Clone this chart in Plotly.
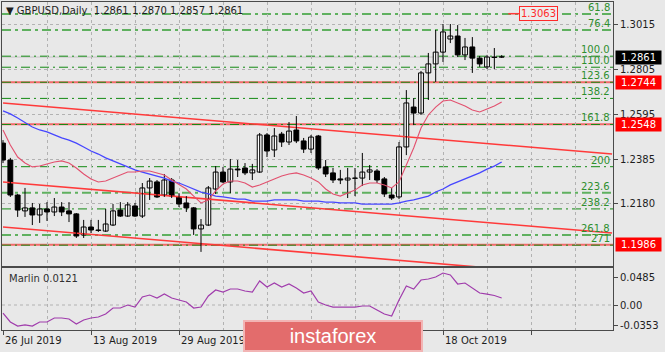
import plotly.graph_objects as go

# ---------------- data ----------------
opens = [1.2460,1.2381,1.2218,1.2144,1.2158,1.2125,1.2153,1.2139,1.2162,1.2144,
         1.2130,1.2032,1.2069,1.2055,1.2050,1.2078,1.2148,1.2120,1.2167,1.2120,
         1.2251,1.2279,1.2218,1.2288,1.2209,1.2181,1.2158,1.2060,1.2078,1.2246,
         1.2325,1.2279,1.2339,1.2344,1.2321,1.2325,1.2498,1.2428,1.2502,1.2465,
         1.2521,1.2470,1.2432,1.2493,1.2349,1.2321,1.2293,1.2288,1.2297,1.2297,
         1.2325,1.2330,1.2293,1.2218,1.2209,1.2442,1.2628,1.2600,1.2787,1.2829,
         1.2884,1.2945,1.2959,1.2871,1.2908,1.2856,1.2815,1.2861,1.2861]
highs = [1.2474,1.2391,1.2223,1.2251,1.2181,1.2176,1.2185,1.2204,1.2185,1.2185,
         1.2134,1.2102,1.2102,1.2102,1.2153,1.2176,1.2185,1.2185,1.2181,1.2274,
         1.2297,1.2288,1.2316,1.2297,1.2227,1.2213,1.2162,1.2106,1.2260,1.2353,
         1.2349,1.2386,1.2381,1.2367,1.2363,1.2507,1.2507,1.2530,1.2512,1.2558,
         1.2586,1.2484,1.2498,1.2498,1.2381,1.2344,1.2335,1.2344,1.2344,1.2414,
         1.2358,1.2339,1.2302,1.2251,1.2465,1.2707,1.2670,1.2796,1.2880,1.2987,
         1.3015,1.3015,1.3010,1.2950,1.2954,1.2866,1.2871,1.2903,1.2870]
lows = [1.2367,1.2209,1.2116,1.2116,1.2078,1.2088,1.2097,1.2120,1.2120,1.2092,
        1.2018,1.2018,1.2041,1.2046,1.2046,1.2074,1.2116,1.2116,1.2116,1.2111,
        1.2195,1.2204,1.2209,1.2204,1.2162,1.2139,1.2032,1.1953,1.2074,1.2223,
        1.2274,1.2227,1.2302,1.2311,1.2288,1.2321,1.2395,1.2395,1.2442,1.2451,
        1.2460,1.2414,1.2414,1.2335,1.2302,1.2274,1.2269,1.2204,1.2213,1.2260,
        1.2288,1.2274,1.2209,1.2195,1.2199,1.2404,1.2544,1.2591,1.2661,1.2745,
        1.2838,1.2926,1.2861,1.2847,1.2787,1.2815,1.2805,1.2805,1.2857]
closes = [1.2381,1.2218,1.2148,1.2158,1.2125,1.2153,1.2139,1.2162,1.2139,1.2130,
          1.2027,1.2069,1.2055,1.2053,1.2083,1.2144,1.2120,1.2172,1.2120,1.2251,
          1.2283,1.2209,1.2288,1.2213,1.2176,1.2158,1.2060,1.2078,1.2251,1.2325,
          1.2279,1.2339,1.2335,1.2321,1.2335,1.2498,1.2423,1.2493,1.2465,1.2516,
          1.2470,1.2432,1.2488,1.2344,1.2316,1.2288,1.2288,1.2297,1.2296,1.2325,
          1.2335,1.2288,1.2223,1.2204,1.2442,1.2647,1.2600,1.2787,1.2829,1.2884,
          1.2978,1.2959,1.2871,1.2908,1.2856,1.2829,1.2861,1.2859,1.2861]

fast_ma = [1.2521,1.2451,1.2395,1.2367,1.2349,1.2353,1.2363,1.2372,1.2377,1.2367,
           1.2344,1.2316,1.2293,1.2279,1.2283,1.2297,1.2311,1.2325,1.2325,1.2330,
           1.2330,1.2321,1.2311,1.2288,1.2269,1.2246,1.2213,1.2181,1.2195,1.2237,
           1.2269,1.2283,1.2283,1.2274,1.2255,1.2265,1.2279,1.2293,1.2307,1.2316,
           1.2321,1.2311,1.2297,1.2279,1.2246,1.2223,1.2213,1.2227,1.2241,1.2265,
           1.2274,1.2274,1.2265,1.2251,1.2279,1.2358,1.2437,1.2530,1.2591,1.2628,
           1.2656,1.2661,1.2647,1.2633,1.2614,1.2605,1.2619,1.2633,1.2651]
slow_ma = [1.2610,1.2596,1.2577,1.2554,1.2535,1.2521,1.2512,1.2498,1.2484,1.2474,
           1.2460,1.2442,1.2423,1.2409,1.2391,1.2377,1.2363,1.2349,1.2335,1.2325,
           1.2316,1.2307,1.2297,1.2283,1.2274,1.2260,1.2246,1.2232,1.2223,1.2213,
           1.2209,1.2204,1.2199,1.2199,1.2190,1.2190,1.2190,1.2195,1.2195,1.2195,
           1.2195,1.2190,1.2190,1.2190,1.2185,1.2185,1.2181,1.2181,1.2181,1.2176,
           1.2176,1.2176,1.2176,1.2176,1.2181,1.2190,1.2195,1.2204,1.2213,1.2232,
           1.2246,1.2265,1.2279,1.2293,1.2307,1.2321,1.2339,1.2353,1.2372]
marlin = [-0.0139,-0.0294,-0.0364,-0.0346,-0.0364,-0.0294,-0.0294,-0.0225,-0.0225,-0.0242,
          -0.0329,-0.0260,-0.0225,-0.0208,-0.0156,-0.0052,-0.0052,0.0000,-0.0035,0.0139,
          0.0173,0.0121,0.0191,0.0121,0.0087,0.0052,-0.0052,-0.0035,0.0156,0.0260,
          0.0225,0.0277,0.0277,0.0243,0.0225,0.0416,0.0312,0.0381,0.0312,0.0364,
          0.0294,0.0208,0.0243,0.0052,0.0000,-0.0035,-0.0035,-0.0035,-0.0035,-0.0017,
          -0.0017,-0.0087,-0.0156,-0.0191,0.0087,0.0329,0.0277,0.0433,0.0450,0.0485,
          0.0554,0.0520,0.0364,0.0381,0.0294,0.0208,0.0190,0.0165,0.0121]

# trend channel lines (bar index, price)
trend_bars = [0, 83.05]
trend_upper = [1.2647, 1.2409]
trend_middle = [1.2279, 1.2041]
trend_lower = [1.2069, 1.1830]

# Fibonacci grid
fib_0 = 1.3380
fib_100 = 1.2865
fib_levels = [61.8, 76.4, 100.0, 110.0, 123.6, 138.2, 161.8, 200, 223.6, 238.2, 261.8, 271]
fib_texts = ["61.8", "76.4", "100.0", "110.0", "123.6", "138.2", "161.8", "200", "223.6", "238.2", "261.8", "271"]
fib_light = {61.8, 76.4, 223.6, 261.8}

# horizontal price levels
red_levels = [1.2744, 1.2548, 1.1986]
red_labels = ["1.2744", "1.2548", "1.1986"]
top_level = 1.3063
top_level_bars = [68.9, 70.4]
bid = 1.2861

price_ticks = [1.3015, 1.2805, 1.2595, 1.2385, 1.2180]
price_tick_text = ["1.3015", "1.2805", "1.2595", "1.2385", "1.2180"]
marlin_ticks = [0.0485, 0.0, -0.0353]
marlin_tick_text = ["0.0485", "0.00", "-0.0353"]

date_labels = ["26 Jul 2019", "13 Aug 2019", "29 Aug 2019", "18 Oct 2019"]
date_label_bars = [0, 12, 24, 60]
date_tick_bars = [0, 12, 24, 36, 48, 60, 72]

title_text = "▼ GBPUSD,Daily  1.2861 1.2870 1.2857 1.2861"
marlin_text = "Marlin 0.0121"

# ---------------- figure ----------------
FONT = "DejaVu Sans"
BG = "#e8e8e8"
GRID = "#b2b2b2"
AX = "#4a4a4a"

bars = list(range(len(opens)))
fig = go.Figure()

# trend lines
for yy in (trend_upper, trend_middle, trend_lower):
    fig.add_trace(go.Scatter(x=trend_bars, y=yy, mode="lines",
                             line=dict(color="#ff3a3a", width=1.6),
                             xaxis="x", yaxis="y", hoverinfo="skip"))

# red short segment to the 1.3063 label
fig.add_trace(go.Scatter(x=top_level_bars, y=[top_level, top_level], mode="lines",
                         line=dict(color="#ff3a3a", width=1.5), xaxis="x", yaxis="y"))

# candle wicks
wx, wy = [], []
for i, h, l in zip(bars, highs, lows):
    wx += [i, i, None]
    wy += [l, h, None]
fig.add_trace(go.Scatter(x=wx, y=wy, mode="lines", line=dict(color="black", width=1),
                         xaxis="x", yaxis="y", hoverinfo="skip"))

# candle bodies
bases = [min(o, c) for o, c in zip(opens, closes)]
heights = [max(abs(c - o), 0.00006) for o, c in zip(opens, closes)]
fills = ["white" if c >= o else "black" for o, c in zip(opens, closes)]
fig.add_trace(go.Bar(x=bars, y=heights, base=bases, width=0.66,
                     marker=dict(color=fills, line=dict(color="black", width=1)),
                     xaxis="x", yaxis="y", hoverinfo="skip"))

# moving averages
fig.add_trace(go.Scatter(x=bars, y=slow_ma, mode="lines", line=dict(color="#4646ff", width=1.3),
                         xaxis="x", yaxis="y"))
fig.add_trace(go.Scatter(x=bars, y=fast_ma, mode="lines", line=dict(color="#e2506e", width=1.1),
                         xaxis="x", yaxis="y"))

# Marlin oscillator
fig.add_trace(go.Scatter(x=bars, y=marlin, mode="lines", line=dict(color="#a03cac", width=1.2),
                         xaxis="x2", yaxis="y2"))

shapes = []
# grey bid line
shapes.append(dict(type="line", xref="x domain", x0=0, x1=1, yref="y", y0=bid, y1=bid,
                   line=dict(color="#c4c4c4", width=1), layer="below"))
# red horizontal levels
for lv in red_levels:
    shapes.append(dict(type="line", xref="x domain", x0=0, x1=1, yref="y", y0=lv, y1=lv,
                       line=dict(color="#f26a6a", width=2), layer="below"))
# fibo lines
fib_prices = [fib_0 + (fib_100 - fib_0) * lv / 100.0 for lv in fib_levels]
for lv, p in zip(fib_levels, fib_prices):
    if lv in fib_light:
        ln = dict(color="#5fb05f", width=2, dash="9px,4px,3px,4px")
    else:
        ln = dict(color="#138a13", width=1, dash="9px,4px,2px,4px")
    shapes.append(dict(type="line", xref="x domain", x0=0, x1=1, yref="y", y0=p, y1=p,
                       line=ln, layer="below"))
# Marlin zero line
shapes.append(dict(type="line", xref="x2 domain", x0=0, x1=1, yref="y2", y0=0, y1=0,
                   line=dict(color=GRID, width=1, dash="dot"), layer="below"))

annotations = []
# header
annotations.append(dict(text=title_text, xref="paper", yref="paper", x=0.004, y=0.9726,
                        xanchor="left", yanchor="middle", showarrow=False,
                        font=dict(family=FONT, size=10, color="#1e1e1e")))
# fib labels
for t, p in zip(fib_texts, fib_prices):
    annotations.append(dict(text=t, xref="paper", yref="y", x=1, y=p, xanchor="right",
                            yanchor="middle", xshift=-1, yshift=6.5, showarrow=False,
                            font=dict(family=FONT, size=10, color="#2e8f2e")))
# top label box
annotations.append(dict(text=f"{top_level:.4f}", xref="x", yref="y", x=top_level_bars[1], y=top_level,
                        xanchor="left", yanchor="middle", showarrow=False, bgcolor="#ececec",
                        bordercolor="#ff2a2a", borderwidth=1, borderpad=1,
                        font=dict(family=FONT, size=10, color="#ff2a2a")))
# right side price boxes
for lv, t in zip(red_levels, red_labels):
    annotations.append(dict(text=t, xref="paper", yref="y", x=1, y=lv, xanchor="left",
                            yanchor="middle", xshift=2, showarrow=False, bgcolor="#ff0000",
                            width=44, height=12, borderpad=0.5, align="center",
                            font=dict(family=FONT, size=10, color="white")))
annotations.append(dict(text=f"{bid:.4f}", xref="paper", yref="y", x=1, y=bid, xanchor="left",
                        yanchor="middle", xshift=2, showarrow=False, bgcolor="#000000",
                        width=44, height=12, borderpad=0.5, align="center",
                        font=dict(family=FONT, size=10, color="white")))
# Marlin label
annotations.append(dict(text=marlin_text, xref="paper", yref="paper", x=0.0082, y=0.1555,
                        xanchor="left", yanchor="middle", showarrow=False,
                        font=dict(family=FONT, size=10, color="#303030")))
# date labels
for t, b in zip(date_labels, date_label_bars):
    annotations.append(dict(text=t, xref="x2", yref="paper", x=b, y=-0.0335, xanchor="left",
                            yanchor="middle", showarrow=False,
                            font=dict(family=FONT, size=10, color="#1e1e1e")))
# watermark
annotations.append(dict(text="instaforex", xref="paper", yref="paper", x=0.5417, y=-0.0183,
                        xanchor="center", yanchor="middle", showarrow=False,
                        width=176, height=28, borderpad=0, bgcolor="#e36c6c",
                        bordercolor="#f2b4b4", borderwidth=2,
                        font=dict(family="Liberation Sans", size=20, color="white")))

xrange = [-0.136, 83.18]
fig.update_layout(
    width=665, height=352,
    margin=dict(l=2, r=52, t=2, b=22, autoexpand=False),
    paper_bgcolor=BG, plot_bgcolor=BG,
    showlegend=False,
    font=dict(family=FONT, size=10, color="#1e1e1e"),
    xaxis=dict(domain=[0, 1], range=xrange, anchor="y", showticklabels=False, ticks="",
               tick0=0, dtick=6, showgrid=True, gridcolor=GRID, griddash="dot", gridwidth=1,
               showline=True, mirror=True, linecolor=AX, linewidth=1, zeroline=False,
               automargin=False),
    yaxis=dict(domain=[0.1951, 1], range=[1.18872, 1.31175], anchor="x", side="right",
               tickmode="array", tickvals=price_ticks, ticktext=price_tick_text,
               ticks="outside", ticklen=4, tickcolor=AX, showgrid=True, gridcolor=GRID,
               griddash="dot", showline=True, mirror=True, linecolor=AX, zeroline=False,
               tickfont=dict(family=FONT, size=10, color="#1e1e1e"), automargin=False),
    xaxis2=dict(domain=[0, 1], range=xrange, matches="x", anchor="y2", showticklabels=False,
                ticks="outside", ticklen=4, tickcolor=AX, tick0=0, dtick=12,
                showgrid=True, gridcolor=GRID, griddash="dot",
                minor=dict(tick0=0, dtick=6, showgrid=True, gridcolor=GRID, griddash="dot", ticks=""),
                showline=True, mirror=True, linecolor=AX, linewidth=1, zeroline=False,
                automargin=False),
    yaxis2=dict(domain=[0, 0.189], range=[-0.0433, 0.0641], anchor="x2", side="right",
                tickmode="array", tickvals=marlin_ticks, ticktext=marlin_tick_text,
                ticks="outside", ticklen=4, tickcolor=AX, showgrid=False,
                showline=True, mirror=True, linecolor=AX, zeroline=False,
                tickfont=dict(family=FONT, size=10, color="#1e1e1e"), automargin=False),
    shapes=shapes,
    annotations=annotations,
)

fig.write_html("out.html")
